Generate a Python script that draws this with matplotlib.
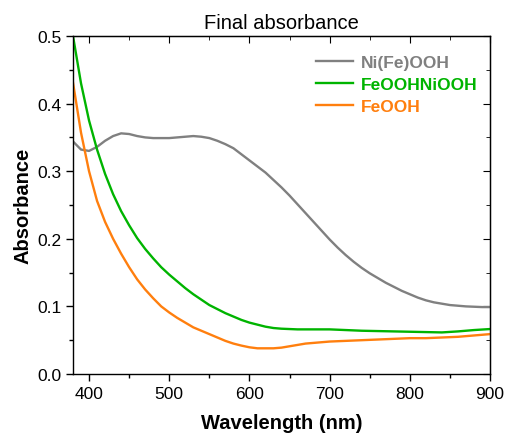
import matplotlib
matplotlib.use("Agg")
import matplotlib.pyplot as plt
from matplotlib.ticker import MultipleLocator

plt.rcParams['font.family'] = ['Liberation Sans', 'DejaVu Sans']

wl_gray = [380, 390, 400, 410, 420, 430, 440, 450, 460, 470, 480, 490, 500, 510, 520, 530, 540,
           550, 560, 570, 580, 590, 600, 610, 620, 630, 640, 650, 660, 670, 680, 690, 700, 710,
           720, 730, 740, 750, 760, 770, 780, 790, 800, 810, 820, 830, 840, 850, 860, 870, 880,
           890, 900]
nifeooh = [0.344, 0.332, 0.330, 0.336, 0.345, 0.352, 0.356, 0.355, 0.352, 0.350, 0.349, 0.349,
           0.349, 0.350, 0.351, 0.352, 0.351, 0.349, 0.345, 0.340, 0.334, 0.325, 0.316, 0.307,
           0.298, 0.287, 0.276, 0.264, 0.251, 0.238, 0.225, 0.212, 0.199, 0.187, 0.176, 0.166,
           0.157, 0.149, 0.142, 0.135, 0.129, 0.123, 0.118, 0.113, 0.109, 0.106, 0.104, 0.102,
           0.101, 0.100, 0.0995, 0.099, 0.099]

wl_green = [380, 390, 400, 410, 420, 430, 440, 450, 460, 470, 480, 490, 500, 510, 520, 530, 540,
            550, 560, 570, 580, 590, 600, 610, 620, 630, 640, 650, 660, 680, 700, 720, 740, 760,
            780, 800, 820, 840, 860, 880, 900]
feoohniooh = [0.50, 0.43, 0.375, 0.332, 0.296, 0.266, 0.241, 0.220, 0.201, 0.185, 0.171, 0.158,
              0.147, 0.137, 0.127, 0.118, 0.110, 0.102, 0.096, 0.090, 0.085, 0.080, 0.076, 0.073,
              0.070, 0.068, 0.067, 0.0665, 0.066, 0.066, 0.066, 0.065, 0.064, 0.0635, 0.063,
              0.0625, 0.062, 0.0615, 0.063, 0.065, 0.0665]

wl_orange = [380, 390, 400, 410, 420, 430, 440, 450, 460, 470, 480, 490, 500, 510, 520, 530, 540,
             550, 560, 570, 580, 590, 600, 610, 620, 630, 640, 650, 660, 670, 680, 690, 700, 720,
             740, 760, 780, 800, 820, 840, 860, 880, 900]
feooh = [0.431, 0.357, 0.300, 0.256, 0.225, 0.200, 0.178, 0.158, 0.140, 0.125, 0.112, 0.100,
         0.091, 0.083, 0.076, 0.069, 0.064, 0.059, 0.054, 0.049, 0.045, 0.042, 0.0395, 0.038,
         0.038, 0.038, 0.039, 0.041, 0.043, 0.045, 0.046, 0.047, 0.048, 0.049, 0.050, 0.051,
         0.052, 0.053, 0.053, 0.054, 0.055, 0.057, 0.059]

labels = ['Ni(Fe)OOH', 'FeOOHNiOOH', 'FeOOH']
colors = ['#808080', '#00b400', '#ff7f0e']

fig = plt.figure(figsize=(5.08, 4.39), dpi=100)
ax = fig.add_axes([0.1437, 0.1458, 0.8209, 0.7699])

ax.plot(wl_gray, nifeooh, color=colors[0], lw=1.7, label=labels[0])
ax.plot(wl_green, feoohniooh, color=colors[1], lw=1.7, label=labels[1])
ax.plot(wl_orange, feooh, color=colors[2], lw=1.7, label=labels[2])

ax.set_xlim(380, 900)
ax.set_ylim(0, 0.5)
ax.xaxis.set_major_locator(MultipleLocator(100))
ax.xaxis.set_minor_locator(MultipleLocator(50))
ax.yaxis.set_major_locator(MultipleLocator(0.1))
ax.yaxis.set_minor_locator(MultipleLocator(0.05))
ax.yaxis.set_major_formatter(plt.FuncFormatter(lambda v, p: f"{v:.1f}"))

ax.tick_params(which='both', direction='out', top=False, right=False, labelsize=12.5)
ax.tick_params(which='major', length=5, width=1)
ax.tick_params(which='minor', length=3, width=1)

axt = ax.secondary_xaxis('top')
axt.xaxis.set_major_locator(MultipleLocator(100))
axt.xaxis.set_minor_locator(MultipleLocator(50))
axt.tick_params(which='both', direction='in', labeltop=False)
axt.tick_params(which='major', length=5)
axt.tick_params(which='minor', length=3)
axr = ax.secondary_yaxis('right')
axr.yaxis.set_major_locator(MultipleLocator(0.1))
axr.yaxis.set_minor_locator(MultipleLocator(0.05))
axr.tick_params(which='both', direction='in', labelright=False)
axr.tick_params(which='major', length=5)
axr.tick_params(which='minor', length=3)

for s in ax.spines.values():
    s.set_linewidth(1)

ax.set_xlabel('Wavelength (nm)', fontsize=14.5, fontweight='bold', labelpad=9)
ax.set_ylabel('Absorbance', fontsize=14.5, fontweight='bold', labelpad=3)
ax.set_title('Final absorbance', fontsize=14.5, pad=6)

leg = ax.legend(loc='upper right', frameon=False, handlelength=2.1,
                handletextpad=0.5, labelspacing=0.4, bbox_to_anchor=(1.0, 0.98),
                borderaxespad=0.3, prop={'weight': 'bold', 'size': 12.5})
for t, c in zip(leg.get_texts(), colors):
    t.set_color(c)

fig.savefig('out.png', dpi=100)
